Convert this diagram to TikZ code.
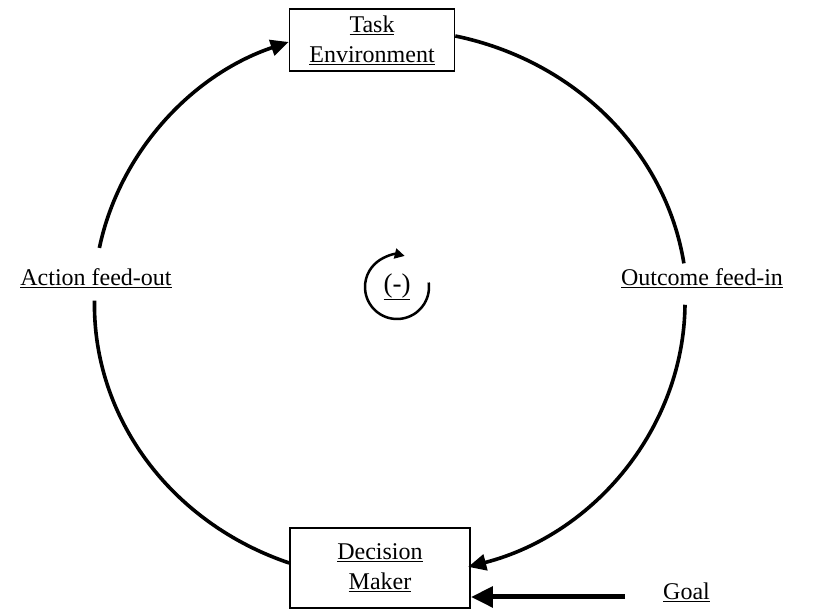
\documentclass[tikz,border=0pt]{standalone}
\usepackage{fontspec}
\setmainfont{Liberation Serif}
\usetikzlibrary{arrows.meta,positioning}

\begin{document}
\begin{tikzpicture}[x=1pt,y=1pt,
    box/.style={draw, line width=1.6pt, minimum width=165pt, minimum height=62pt,
      align=center, font=\fontsize{24}{30}\selectfont},
    lbl/.style={inner xsep=0pt, inner ysep=11pt, font=\fontsize{24}{30}\selectfont},
    loop/.style={line width=3.6pt},
    rim/.style={x radius=296, y radius=275},
    tip/.style={-{Triangle[length=18pt,width=16pt]}},
    pit/.style={{Triangle[length=18pt,width=16pt]}-}]
  \useasboundingbox (0,0) rectangle (813,612);

  \node[box] (task) at (372,572) {\underline{Task}\\\underline{Environment}};
  \node[box, minimum width=180pt, minimum height=80pt] (dm) at (380,44) {\underline{Decision}\\\underline{Maker}};
  \node[lbl] (act) at (96,334) {\underline{Action feed-out}};
  \node[lbl] (out) at (702,334) {\underline{Outcome feed-in}};
  \node[lbl, anchor=west, inner ysep=2pt] (goal) at (663,20) {\underline{Goal}};
  \coordinate (gs) at (625,15);

  % the loop, on one ellipse
  \draw[loop] ([yshift=5pt]dm.west) arc[start angle=250, end angle=179.2, rim];
  \draw[loop, pit] ([yshift=-2pt]task.west) arc[start angle=110, end angle=169, rim];
  \draw[loop] ([yshift=4pt]task.east) arc[start angle=77.5, end angle=8.6, rim];
  \draw[loop, tip] ([xshift=-17pt,yshift=-6pt]out.south) arc[start angle=-0.6, end angle=-74.5, rim];
  \draw[line width=5pt, -{Triangle[length=22pt,width=20pt]}] (gs) -- (gs -| dm.east);

  % sign of the loop
  \coordinate (c) at (397,325);
  \draw[line width=2.5pt, -{Triangle[length=10pt,width=10pt]}]
    ([shift={(8:32)}]c) arc[start angle=8, end angle=-284, radius=32];
  \node[font=\fontsize{27}{30}\selectfont, inner sep=0pt] (sign) at (c) {\underline{(-)}};
\end{tikzpicture}
\end{document}
